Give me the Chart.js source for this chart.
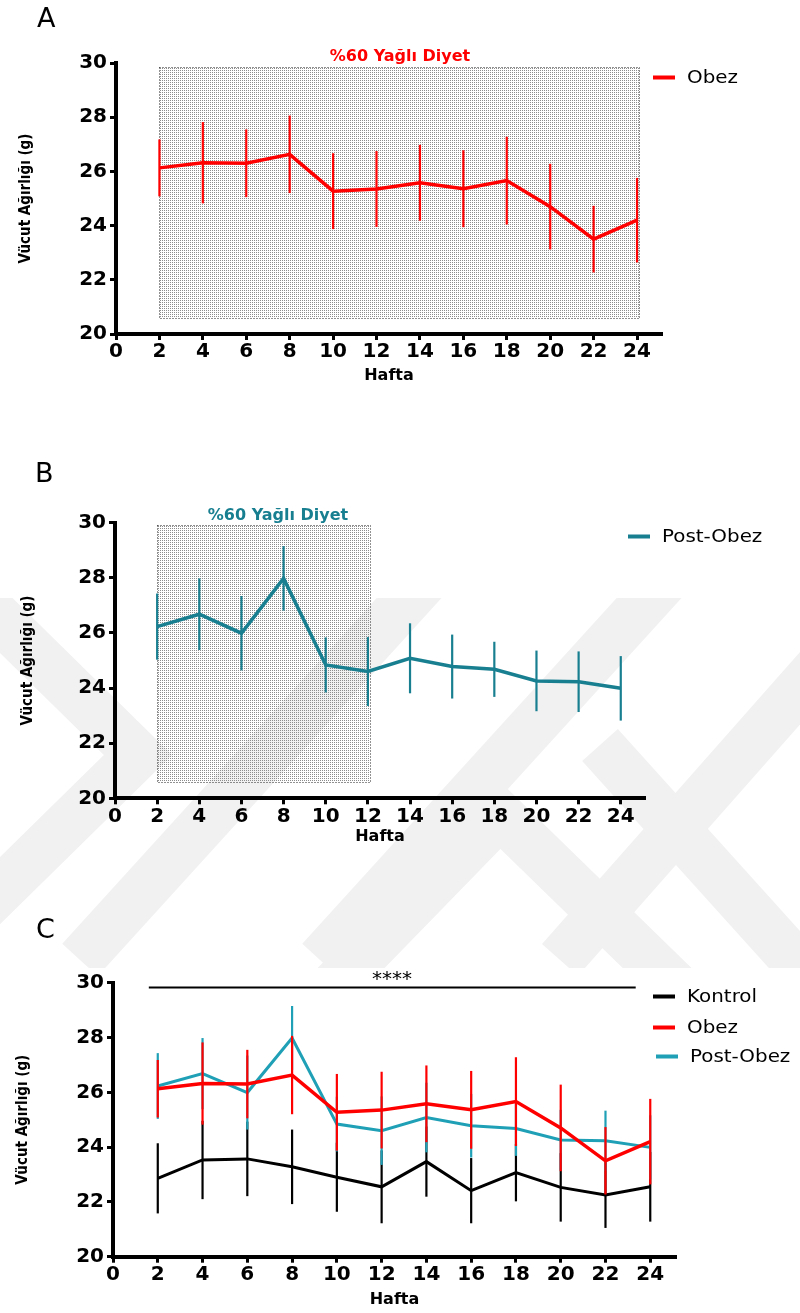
<!DOCTYPE html>
<html>
<head>
<meta charset="utf-8">
<script src="https://cdn.jsdelivr.net/npm/chart.js@4.4.0/dist/chart.umd.min.js"></script>
<style>
  body { margin: 0; background: #fff; }
  #page { position: relative; width: 800px; height: 1313px; overflow: hidden; font-family: 'DejaVu Sans', sans-serif; color: #000; }
  #wm { position: absolute; left: 0; top: 0; }
  .chart { position: absolute; left: 0; }
  .panel { position: absolute; font-size: 27px; font-weight: normal; line-height: 1; transform: translateY(-50%); }
  .leg { position: absolute; display: flex; align-items: center; font-size: 17px; line-height: 1; transform: translateY(-50%); white-space: nowrap; }
  .leg i { display: inline-block; width: 22px; height: 4px; margin-right: 12px; }
  .leg span { display: inline-block; transform: scaleX(1.17); transform-origin: left center; }
  .diet { position: absolute; font-weight: bold; font-size: 16px; line-height: 1; transform: translate(-50%, -50%); white-space: nowrap; }
  .stars { position: absolute; font-size: 20px; line-height: 1; transform: translateX(-50%); }
</style>
</head>
<body>
<div id="page">
  <canvas id="wm" width="800" height="1313"></canvas>

  <div class="panel" style="left:37px; top:17px;">A</div>
  <div class="diet" style="left:400px; top:56px; color:#ff0000;">%60 Yağlı Diyet</div>
  <canvas id="chartA" class="chart" style="top:40px;" width="800" height="360"></canvas>
  <div class="leg" style="left:653px; top:77px;"><i style="background:#ff0000"></i><span>Obez</span></div>

  <div class="panel" style="left:35px; top:472px;">B</div>
  <div class="diet" style="left:278px; top:515px; color:#187f91;">%60 Yağlı Diyet</div>
  <canvas id="chartB" class="chart" style="top:490px;" width="800" height="380"></canvas>
  <div class="leg" style="left:628px; top:536px;"><i style="background:#187f91"></i><span>Post-Obez</span></div>

  <div class="panel" style="left:36px; top:928px;">C</div>
  <canvas id="chartC" class="chart" style="top:940px;" width="800" height="373"></canvas>
  <div class="stars" style="left:392px; top:968px;">****</div>
  <div class="leg" style="left:653px; top:996px;"><i style="background:#000"></i><span>Kontrol</span></div>
  <div class="leg" style="left:653px; top:1027px;"><i style="background:#ff0000"></i><span>Obez</span></div>
  <div class="leg" style="left:656px; top:1056px;"><i style="background:#20a0b6"></i><span>Post-Obez</span></div>
</div>

<script>
// Datos (semanas, media y error)
const weeks = [2, 4, 6, 8, 10, 12, 14, 16, 18, 20, 22, 24];
const weekTicks = [0, 2, 4, 6, 8, 10, 12, 14, 16, 18, 20, 22, 24];
const weightTicks = [20, 22, 24, 26, 28, 30];

const obezMean = [26.13, 26.32, 26.30, 26.63, 25.27, 25.35, 25.58, 25.36, 25.66, 24.70, 23.50, 24.20];
const obezErr = [1.05, 1.50, 1.25, 1.43, 1.40, 1.40, 1.40, 1.42, 1.62, 1.58, 1.23, 1.56];

const postObezMean = [26.23, 26.68, 25.99, 27.98, 24.84, 24.60, 25.08, 24.78, 24.68, 24.26, 24.23, 23.99];
const postObezErr = [1.20, 1.30, 1.35, 1.17, 1.00, 1.25, 1.27, 1.16, 1.00, 1.10, 1.10, 1.17];

const kontrolMean = [22.86, 23.53, 23.57, 23.28, 22.90, 22.55, 23.47, 22.41, 23.07, 22.53, 22.25, 22.55];
const kontrolErr = [1.28, 1.43, 1.36, 1.36, 1.26, 1.33, 1.28, 1.19, 1.05, 1.25, 1.20, 1.27];

// periodo de dieta (semanas)
const dietA = [2, 24.1];
const dietB = [2, 12.1];
// barra de significancia (semanas)
const sigSpan = [1.6, 23.35];

const colors = {
    red: '#ff0000',
    tealB: '#187f91',
    tealC: '#20a0b6',
    black: '#000000'
};

const points = (means) => weeks.map((w, i) => ({ x: w, y: means[i] }));

// Marca de agua de fondo
(function drawWatermark() {
    const ctx = document.getElementById('wm').getContext('2d');
    ctx.save();
    ctx.beginPath();
    ctx.rect(0, 598, 800, 370);
    ctx.clip();
    ctx.strokeStyle = '#f1f1f1';
    ctx.lineWidth = 48;
    ctx.lineJoin = 'miter';
    const bands = [
        [[-40, 580], [138, 755], [-40, 930]],
        [[430, 575], [80, 960]],
        [[670, 575], [320, 960]],
        [[320, 1000], [500, 815], [690, 1000]],
        [[600, 745], [830, 1000]],
        [[900, 575], [560, 960]]
    ];
    bands.forEach(b => {
        ctx.beginPath();
        ctx.moveTo(b[0][0], b[0][1]);
        b.slice(1).forEach(p => ctx.lineTo(p[0], p[1]));
        ctx.stroke();
    });
    ctx.restore();
})();

// Patrón punteado para el área de dieta
function dotPattern(ctx) {
    const c = document.createElement('canvas');
    c.width = 2; c.height = 2;
    const g = c.getContext('2d');
    g.fillStyle = '#8c8c8c';
    g.fillRect(0, 0, 1, 1);
    return ctx.createPattern(c, 'repeat');
}

// Barras de error (sin tapas)
const errorBars = {
    id: 'errorBars',
    beforeDatasetDraw(chart, args) {
        const ds = chart.data.datasets[args.index];
        if (!ds.errors) return;
        const { x, y } = chart.scales;
        const ctx = chart.ctx;
        ctx.save();
        ctx.strokeStyle = ds.borderColor;
        ctx.lineWidth = ds.errorWidth || 2;
        ds.data.forEach((p, i) => {
            const px = x.getPixelForValue(p.x);
            ctx.beginPath();
            ctx.moveTo(px, y.getPixelForValue(p.y - ds.errors[i]));
            ctx.lineTo(px, y.getPixelForValue(p.y + ds.errors[i]));
            ctx.stroke();
        });
        ctx.restore();
    }
};

// Caja punteada de la dieta
const dietBox = {
    id: 'dietBox',
    beforeDatasetsDraw(chart, args, opts) {
        if (!opts.weeks) return;
        const { x, y } = chart.scales;
        const ctx = chart.ctx;
        const l = Math.round(x.getPixelForValue(opts.weeks[0]));
        const r = Math.round(x.getPixelForValue(opts.weeks[1]));
        const t = Math.round(y.getPixelForValue(opts.top));
        const b = Math.round(y.getPixelForValue(opts.bottom));
        ctx.save();
        ctx.fillStyle = dotPattern(ctx);
        ctx.fillRect(l, t, r - l, b - t);
        ctx.setLineDash([1, 2]);
        ctx.lineWidth = 1;
        ctx.strokeStyle = '#222';
        ctx.strokeRect(l + 0.5, t + 0.5, r - l, b - t);
        ctx.restore();
    }
};

// Línea de significancia
const sigLine = {
    id: 'sigLine',
    afterDatasetsDraw(chart, args, opts) {
        if (!opts.span) return;
        const { x, y } = chart.scales;
        const ctx = chart.ctx;
        const py = Math.round(y.getPixelForValue(opts.level)) + 0.5;
        ctx.save();
        ctx.strokeStyle = '#000';
        ctx.lineWidth = 2;
        ctx.beginPath();
        ctx.moveTo(x.getPixelForValue(opts.span[0]), py);
        ctx.lineTo(x.getPixelForValue(opts.span[1]), py);
        ctx.stroke();
        ctx.restore();
    }
};

function scalesFor(cfg) {
    const tickFont = { family: "'DejaVu Sans', sans-serif", weight: 'bold', size: 20 };
    return {
        x: {
            type: 'linear',
            min: 0,
            max: 25.15,
            afterBuildTicks: s => { s.ticks = weekTicks.map(v => ({ value: v })); },
            afterFit: s => { s.height = cfg.xHeight; },
            grid: { drawOnChartArea: false, tickLength: 6, tickWidth: 3, tickColor: '#000' },
            border: { color: '#000', width: 4 },
            ticks: { color: '#000', font: tickFont, padding: 0, maxRotation: 0, autoSkip: false },
            title: {
                display: true,
                text: 'Hafta',
                color: '#000',
                font: { family: "'DejaVu Sans', sans-serif", weight: 'bold', size: 16 },
                padding: { top: 0, bottom: cfg.xTitlePad }
            }
        },
        y: {
            min: 20,
            max: 30,
            afterBuildTicks: s => { s.ticks = weightTicks.map(v => ({ value: v })); },
            afterFit: s => { s.width = cfg.yWidth; },
            grid: { drawOnChartArea: false, tickLength: 6, tickWidth: 3, tickColor: '#000' },
            border: { color: '#000', width: 4 },
            ticks: { color: '#000', font: tickFont, padding: 3 },
            title: {
                display: true,
                text: 'Vücut Ağırlığı (g)',
                color: '#000',
                font: { family: "'DejaVu Sans Condensed', 'Liberation Sans Narrow', sans-serif", weight: 'bold', size: 15 },
                padding: { top: cfg.yTitlePad, bottom: 0 }
            }
        }
    };
}

function lineSet(label, means, errs, color, width, order) {
    return {
        label: label,
        data: points(means),
        errors: errs,
        borderColor: color,
        backgroundColor: color,
        borderWidth: width,
        errorWidth: 2.2,
        pointRadius: 0,
        tension: 0,
        fill: false,
        clip: false,
        order: order
    };
}

function makeChart(id, datasets, cfg, pluginOpts) {
    return new Chart(document.getElementById(id), {
        type: 'line',
        data: { datasets: datasets },
        options: {
            responsive: false,
            animation: false,
            devicePixelRatio: 1,
            layout: { padding: cfg.padding },
            scales: scalesFor(cfg),
            plugins: Object.assign({
                legend: { display: false },
                tooltip: { enabled: false }
            }, pluginOpts)
        },
        plugins: [dietBox, errorBars, sigLine]
    });
}

// Panel A - Obez
makeChart('chartA', [
    lineSet('Obez', obezMean, obezErr, colors.red, 3.5, 1)
], {
    padding: { left: 0, top: 23, right: 138, bottom: 6 },
    yWidth: 116, xHeight: 60, xTitlePad: 8.4, yTitlePad: 17
}, {
    dietBox: { weeks: dietA, top: 29.87, bottom: 20.58 },
    sigLine: {}
});

// Panel B - Post-Obez
makeChart('chartB', [
    lineSet('Post-Obez', postObezMean, postObezErr, colors.tealB, 3.5, 1)
], {
    padding: { left: 0, top: 32.7, right: 155, bottom: 11.7 },
    yWidth: 115, xHeight: 60, xTitlePad: 11.7, yTitlePad: 19
}, {
    dietBox: { weeks: dietB, top: 29.9, bottom: 20.6 },
    sigLine: {}
});

// Panel C - comparación
makeChart('chartC', [
    lineSet('Kontrol', kontrolMean, kontrolErr, colors.black, 3, 3),
    lineSet('Obez', obezMean, obezErr, colors.red, 3.5, 1),
    lineSet('Post-Obez', postObezMean, postObezErr, colors.tealC, 3, 2)
], {
    padding: { left: 0, top: 42.7, right: 124, bottom: 0.3 },
    yWidth: 113, xHeight: 56, xTitlePad: 3.1, yTitlePad: 14
}, {
    dietBox: {},
    sigLine: { span: sigSpan, level: 29.85 }
});
</script>
</body>
</html>
